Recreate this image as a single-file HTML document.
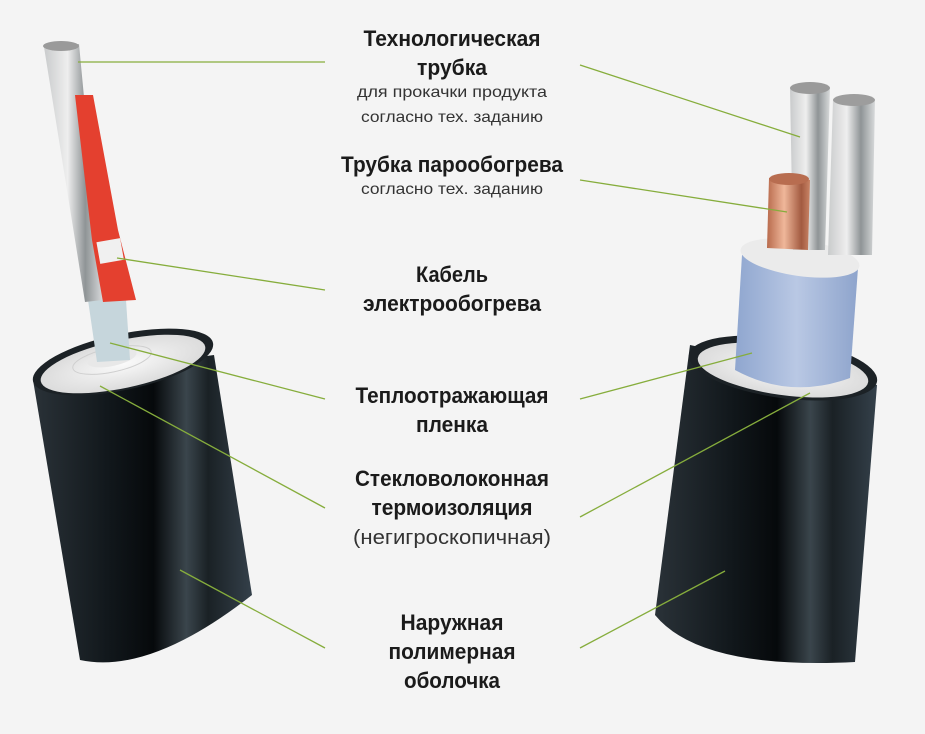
<!DOCTYPE html>
<html><head><meta charset="utf-8"><style>
html,body{margin:0;padding:0;background:#f4f4f4;}
svg{display:block}
text{font-family:"Liberation Sans",sans-serif;fill:#1b1b1b;text-anchor:middle}
.b{font-weight:bold;font-size:22px}
.s{font-size:16px;fill:#333}
.m{font-size:20px;fill:#333}
line{stroke:#86ad3c;stroke-width:1.3}
</style></head><body>
<svg width="925" height="734" viewBox="0 0 925 734" xmlns="http://www.w3.org/2000/svg">
<defs>
<linearGradient id="blk" x1="0" x2="1" y1="0" y2="0">
<stop offset="0" stop-color="#2a3238"/><stop offset="0.35" stop-color="#11171b"/><stop offset="0.55" stop-color="#06090b"/><stop offset="0.7" stop-color="#3a454c"/><stop offset="0.8" stop-color="#1a2125"/><stop offset="1" stop-color="#34404a"/></linearGradient>
<linearGradient id="tube" x1="0" x2="1"><stop offset="0" stop-color="#c9cbcc"/><stop offset="0.4" stop-color="#eeeeee"/><stop offset="0.7" stop-color="#8f9496"/><stop offset="1" stop-color="#d8dadb"/></linearGradient>
<linearGradient id="cu" x1="0" x2="1"><stop offset="0" stop-color="#b86a4c"/><stop offset="0.4" stop-color="#efb79a"/><stop offset="0.8" stop-color="#a25a40"/><stop offset="1" stop-color="#c98466"/></linearGradient>
<linearGradient id="blue" x1="0" x2="1"><stop offset="0" stop-color="#8fa6cf"/><stop offset="0.5" stop-color="#b9c8e4"/><stop offset="1" stop-color="#8ea4cc"/></linearGradient>
<radialGradient id="ins"><stop offset="0" stop-color="#fafafa"/><stop offset="1" stop-color="#dcdcdc"/></radialGradient>
</defs>
<!-- left cylinder -->
<path d="M33,380 L80,660 Q150,675 252,595 L214,355 Z" fill="url(#blk)"/>
<ellipse cx="123" cy="362" rx="92" ry="28" transform="rotate(-12 123 362)" fill="#1c2226"/>
<ellipse cx="123" cy="364" rx="84" ry="24" transform="rotate(-12 123 364)" fill="url(#ins)"/>
<ellipse cx="112" cy="360" rx="40" ry="12" transform="rotate(-12 112 360)" fill="none" stroke="#cfcfcf"/>
<ellipse cx="112" cy="358" rx="25" ry="8" transform="rotate(-12 112 358)" fill="#e8e8e8"/>
<!-- left tube -->
<path d="M88,300 L126,300 L130,360 L97,362 Z" fill="#c6d6dc"/>
<path d="M44,47 L79,44 L103,300 L85,302 Z" fill="url(#tube)"/>
<ellipse cx="61" cy="46" rx="18" ry="5" fill="#9a9a9a"/>
<path d="M75,95 L93,95 L118,230 L136,300 L103,302 L92,240 Z" fill="#e4402f"/>
<rect x="98" y="240" width="24" height="22" fill="#f0f0f0" transform="rotate(-10 110 250)"/>
<!-- right cylinder -->
<path d="M690,345 L655,615 Q700,670 855,662 L877,385 Z" fill="url(#blk)"/>
<ellipse cx="783" cy="368" rx="95" ry="30" transform="rotate(8 783 368)" fill="#1c2226"/>
<ellipse cx="783" cy="370" rx="86" ry="25" transform="rotate(8 783 370)" fill="url(#ins)"/>
<path d="M742,255 L735,370 Q790,400 850,378 L858,268 Z" fill="url(#blue)"/>
<ellipse cx="800" cy="258" rx="60" ry="18" transform="rotate(8 800 258)" fill="#ebebeb"/>
<path d="M833,100 L875,100 L872,255 L828,255 Z" fill="url(#tube)"/>
<ellipse cx="854" cy="100" rx="21" ry="6" fill="#9d9d9d"/>
<path d="M790,88 L830,88 L825,250 L793,250 Z" fill="url(#tube)"/>
<ellipse cx="810" cy="88" rx="20" ry="6" fill="#9a9a9a"/>
<path d="M769,178 L810,180 L808,250 L767,248 Z" fill="url(#cu)"/>
<ellipse cx="789" cy="179" rx="20" ry="6" fill="#b86d50"/>
<!-- lines -->
<line x1="78" y1="62" x2="325" y2="62"/>
<line x1="580" y1="65" x2="800" y2="137"/>
<line x1="580" y1="180" x2="787" y2="212"/>
<line x1="117" y1="258" x2="325" y2="290"/>
<line x1="110" y1="343" x2="325" y2="399"/>
<line x1="580" y1="399" x2="752" y2="353"/>
<line x1="100" y1="386" x2="325" y2="508"/>
<line x1="580" y1="517" x2="810" y2="393"/>
<line x1="180" y1="570" x2="325" y2="648"/>
<line x1="580" y1="648" x2="725" y2="571"/>
<!-- text -->
<text class="b" x="452" y="46" textLength="177" lengthAdjust="spacingAndGlyphs">Технологическая</text>
<text class="b" x="452" y="75" textLength="70" lengthAdjust="spacingAndGlyphs">трубка</text>
<text class="s" x="452" y="97" textLength="190" lengthAdjust="spacingAndGlyphs">для прокачки продукта</text>
<text class="s" x="452" y="122" textLength="182" lengthAdjust="spacingAndGlyphs">согласно тех. заданию</text>
<text class="b" x="452" y="172" textLength="222" lengthAdjust="spacingAndGlyphs">Трубка парообогрева</text>
<text class="s" x="452" y="194" textLength="182" lengthAdjust="spacingAndGlyphs">согласно тех. заданию</text>
<text class="b" x="452" y="282" textLength="72" lengthAdjust="spacingAndGlyphs">Кабель</text>
<text class="b" x="452" y="311" textLength="178" lengthAdjust="spacingAndGlyphs">электрообогрева</text>
<text class="b" x="452" y="403" textLength="193" lengthAdjust="spacingAndGlyphs">Теплоотражающая</text>
<text class="b" x="452" y="432" textLength="72" lengthAdjust="spacingAndGlyphs">пленка</text>
<text class="b" x="452" y="486" textLength="194" lengthAdjust="spacingAndGlyphs">Стекловолоконная</text>
<text class="b" x="452" y="515" textLength="161" lengthAdjust="spacingAndGlyphs">термоизоляция</text>
<text class="m" x="452" y="544" textLength="198" lengthAdjust="spacingAndGlyphs">(негигроскопичная)</text>
<text class="b" x="452" y="630" textLength="103" lengthAdjust="spacingAndGlyphs">Наружная</text>
<text class="b" x="452" y="659" textLength="127" lengthAdjust="spacingAndGlyphs">полимерная</text>
<text class="b" x="452" y="688" textLength="96" lengthAdjust="spacingAndGlyphs">оболочка</text>
</svg>
</body></html>
